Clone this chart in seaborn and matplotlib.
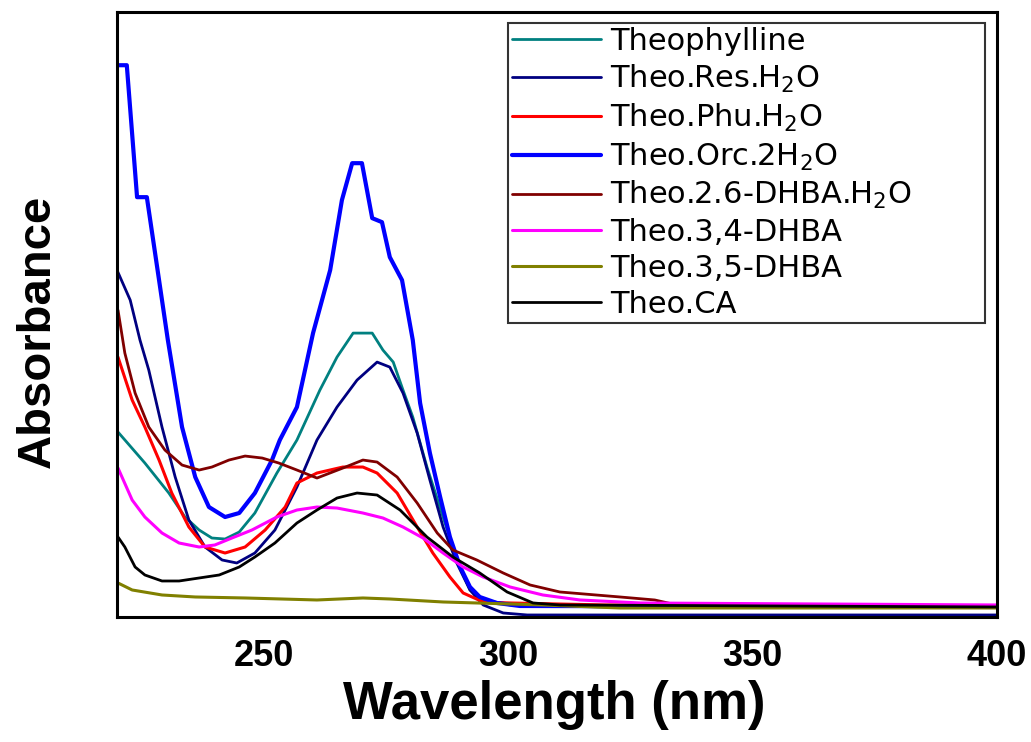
import numpy as np
import pandas as pd
import matplotlib
matplotlib.use("Agg")
import matplotlib.pyplot as plt
import seaborn as sns

# wavelengths (nm) and absorbance (arb. units)
wl_theo = [220.2, 225.7, 230.6, 233.9, 236.8, 239.4, 242.1, 245.0, 248.2, 252.7, 256.8, 261.5, 265.0,
           268.3, 272.2, 274.4, 276.5, 278.5, 280.5, 283.4, 286.7, 289.5, 292.2, 294.9, 300.4, 320.0, 400.0]
ab_theo = [0.925, 0.77, 0.62, 0.50, 0.435, 0.395, 0.39, 0.425, 0.52, 0.72, 0.885, 1.135, 1.30,
           1.42, 1.42, 1.335, 1.275, 1.135, 1.00, 0.75, 0.50, 0.285, 0.135, 0.085, 0.06, 0.05, 0.05]

wl_res = [220.0, 222.7, 224.7, 226.5, 229.2, 231.9, 234.7, 238.0, 241.5, 244.5, 248.2, 252.3, 256.8, 260.9,
          265.0, 269.1, 273.2, 275.8, 278.5, 281.4, 284.0, 286.7, 289.5, 292.2, 294.9, 299.0, 303.9, 400.0]
ab_res = [1.735, 1.585, 1.385, 1.235, 0.95, 0.70, 0.485, 0.35, 0.285, 0.27, 0.32, 0.435, 0.65, 0.885,
          1.05, 1.185, 1.275, 1.25, 1.12, 0.92, 0.685, 0.45, 0.27, 0.135, 0.06, 0.02, 0.01, 0.01]

wl_phu = [220.2, 223.1, 225.7, 228.6, 231.2, 234.7, 238.0, 242.1, 246.2, 250.3, 254.4, 256.8, 260.9, 266.2,
          270.3, 273.2, 277.3, 281.4, 284.6, 288.1, 290.8, 294.9, 300.4, 320.0, 400.0]
ab_phu = [1.30, 1.085, 0.95, 0.785, 0.62, 0.45, 0.35, 0.32, 0.35, 0.435, 0.55, 0.67, 0.72, 0.75,
          0.75, 0.72, 0.62, 0.45, 0.32, 0.20, 0.12, 0.075, 0.07, 0.06, 0.055]

wl_orc = [220.2, 222.0, 224.1, 226.1, 228.6, 230.4, 233.3, 236.0, 238.8, 242.1, 245.0, 248.2, 251.7, 253.3,
          256.8, 260.1, 263.6, 266.0, 268.1, 270.1, 272.2, 274.2, 275.8, 278.3, 280.5, 282.0, 284.0, 286.1,
          288.1, 290.2, 292.2, 294.2, 297.7, 302.4, 400.0]
ab_orc = [2.76, 2.76, 2.10, 2.10, 1.685, 1.385, 0.95, 0.70, 0.55, 0.50, 0.52, 0.62, 0.785, 0.885,
          1.05, 1.42, 1.735, 2.085, 2.27, 2.27, 1.995, 1.975, 1.80, 1.685, 1.385, 1.07, 0.82, 0.60,
          0.40, 0.25, 0.15, 0.10, 0.07, 0.055, 0.05]

wl_26 = [220.2, 221.6, 223.7, 226.5, 229.8, 233.3, 236.8, 239.4, 242.9, 246.2, 249.7, 253.1, 256.8, 260.9,
         266.2, 270.3, 273.2, 277.3, 281.4, 285.5, 288.7, 293.6, 299.0, 304.5, 310.6, 322.9, 330.0, 334.5,
         343.3, 400.0]
ab_26 = [1.535, 1.32, 1.12, 0.95, 0.835, 0.76, 0.735, 0.75, 0.785, 0.805, 0.795, 0.77, 0.735, 0.695,
         0.745, 0.785, 0.775, 0.70, 0.57, 0.42, 0.335, 0.285, 0.22, 0.16, 0.125, 0.10, 0.085, 0.06,
         0.05, 0.05]

wl_34 = [220.2, 223.1, 225.7, 229.2, 232.7, 236.8, 240.0, 243.5, 247.6, 252.7, 256.8, 260.9, 265.0, 270.3,
         274.4, 278.5, 282.6, 286.7, 290.8, 294.9, 300.4, 307.1, 314.7, 327.0, 400.0]
ab_34 = [0.745, 0.585, 0.50, 0.42, 0.37, 0.35, 0.36, 0.395, 0.435, 0.50, 0.535, 0.55, 0.545, 0.52,
         0.495, 0.45, 0.395, 0.32, 0.25, 0.20, 0.15, 0.11, 0.085, 0.07, 0.06]

wl_35 = [220.2, 223.1, 229.2, 236.0, 246.2, 260.9, 270.3, 275.8, 286.7, 293.6, 307.1, 322.9, 400.0]
ab_35 = [0.17, 0.135, 0.11, 0.10, 0.095, 0.085, 0.095, 0.09, 0.075, 0.07, 0.06, 0.045, 0.045]

wl_ca = [220.2, 221.6, 223.7, 225.7, 229.2, 232.7, 236.8, 240.9, 245.0, 248.2, 252.3, 256.8, 260.9, 265.0,
         269.1, 273.2, 277.9, 283.4, 288.7, 294.2, 299.8, 305.1, 310.6, 400.0]
ab_ca = [0.40, 0.35, 0.25, 0.21, 0.18, 0.18, 0.195, 0.21, 0.25, 0.30, 0.37, 0.47, 0.535, 0.595,
         0.62, 0.61, 0.535, 0.40, 0.30, 0.22, 0.125, 0.07, 0.06, 0.05]

labels = ["Theophylline", "Theo.Res.H$_2$O", "Theo.Phu.H$_2$O", "Theo.Orc.2H$_2$O",
          "Theo.2.6-DHBA.H$_2$O", "Theo.3,4-DHBA", "Theo.3,5-DHBA", "Theo.CA"]
colors = ["#008080", "#000080", "#FF0000", "#0000FF", "#800000", "#FF00FF", "#808000", "#000000"]
widths = [2.0, 2.0, 2.2, 3.0, 2.0, 2.2, 2.2, 2.0]
series = [(wl_theo, ab_theo), (wl_res, ab_res), (wl_phu, ab_phu), (wl_orc, ab_orc),
          (wl_26, ab_26), (wl_34, ab_34), (wl_35, ab_35), (wl_ca, ab_ca)]

sns.set_theme(style="white")
plt.rcParams['font.family'] = ['Liberation Sans', 'DejaVu Sans']
plt.rcParams['mathtext.default'] = 'regular'
plt.rcParams['text.color'] = 'black'
plt.rcParams['axes.labelcolor'] = 'black'
plt.rcParams['xtick.color'] = 'black'

fig = plt.figure(figsize=(10.31, 7.42), dpi=100, facecolor="white")
ax = fig.add_axes([0.1135, 0.1685, 0.8535, 0.815])

for (x, y), lab, c, lw in zip(series, labels, colors, widths):
    df = pd.DataFrame({"wl": x, "ab": y})
    sns.lineplot(data=df, x="wl", y="ab", color=c, lw=lw, label=lab,
                 estimator=None, sort=False, ax=ax)

ax.set_xlim(220, 400)
ax.set_ylim(0, 3.025)
ax.set_xticks([250, 300, 350, 400], labels=["250", "300", "350", "400"], fontweight='bold')
ax.set_yticks([])
ax.tick_params(axis='x', direction='out', length=7, width=2.2, pad=9, labelsize=26,
               color='black', labelcolor='black')
for sp in ax.spines.values():
    sp.set_color('black')
    sp.set_linewidth(2.2)

ax.set_xlabel("Wavelength (nm)", fontsize=38, fontweight='bold', color='black')
ax.set_ylabel("Absorbance", fontsize=34, fontweight='bold', color='black')
ax.xaxis.set_label_coords(0.497, -0.105)
ax.yaxis.set_label_coords(-0.065, 0.473)

# legend box spans a fixed width, entries left aligned inside it
leg = ax.legend(loc='upper left', bbox_to_anchor=(0.444, 0.5, 0.542, 0.483), mode='expand',
                borderaxespad=0, prop={'family': 'DejaVu Sans', 'size': 22}, frameon=True,
                fancybox=False, handlelength=2.9, handletextpad=0.3, labelspacing=0.22,
                borderpad=0.15)
leg.get_frame().set_edgecolor('black')
leg.get_frame().set_linewidth(1.5)
for t in leg.get_texts():
    t.set_color('black')

fig.savefig("out.png", dpi=100, facecolor="white")
